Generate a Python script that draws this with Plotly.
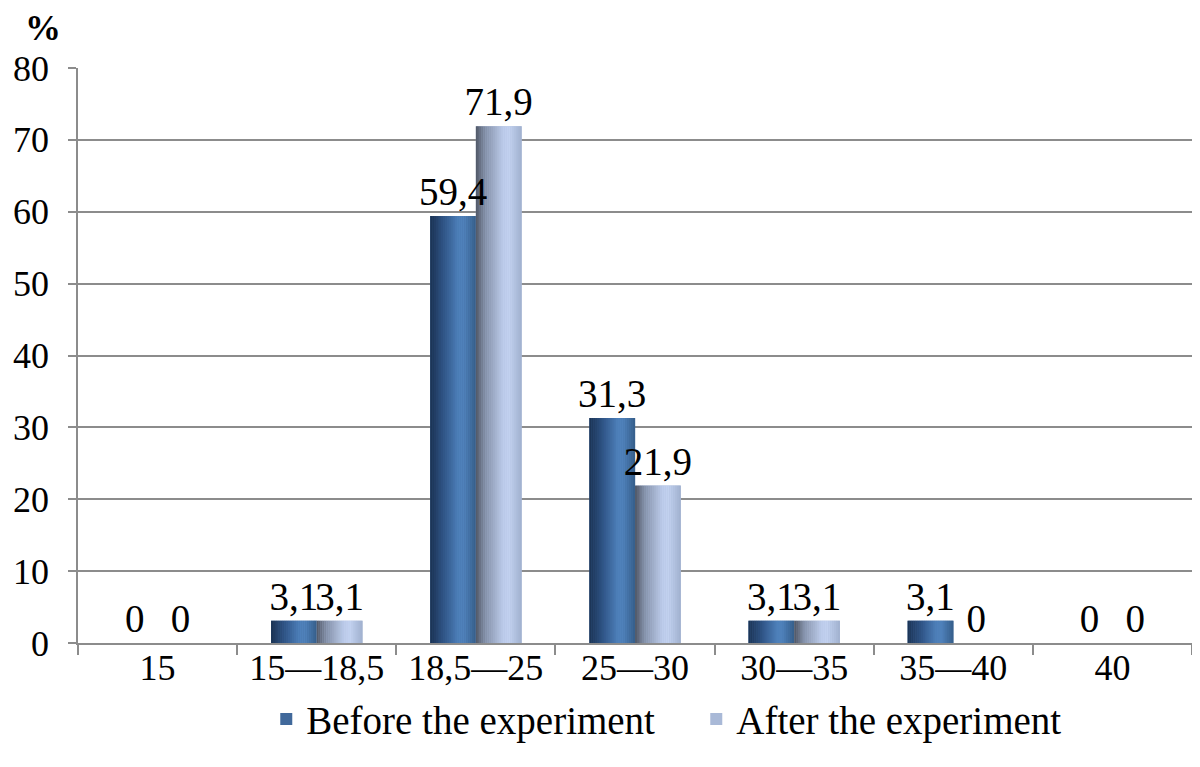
import plotly.graph_objects as go

categories = ["15", "15—18,5", "18,5—25", "25—30", "30—35", "35—40", "40"]
before = [0, 3.1, 59.4, 31.3, 3.1, 3.1, 0]
after = [0, 3.1, 71.9, 21.9, 3.1, 0, 0]
series_names = ["Before the experiment", "After the experiment"]
y_ticks = [0, 10, 20, 30, 40, 50, 60, 70, 80]

FONT = "Liberation Serif"
FS = 36
LFS = 39
BAR_W = 0.287

# cylinder-like shading key colours (left -> right), interpolated into strips
key_before = [(0.0, "#1b3354"), (0.3, "#2f5486"), (0.62, "#4e80ba"), (0.75, "#4f81ba"),
              (1.0, "#355e8a")]
key_after = [(0.0, "#4f5666"), (0.22, "#8592aa"), (0.6, "#bdcceb"), (0.72, "#c3d2f0"),
             (1.0, "#a0b0ce")]
legend_colors = ["#41699b", "#a9b9d7"]
N_STRIPS = 24


def hex2rgb(h):
    return tuple(int(h[i:i + 2], 16) for i in (1, 3, 5))


def shade(keys, t):
    for (t0, c0), (t1, c1) in zip(keys[:-1], keys[1:]):
        if t0 <= t <= t1:
            a = (t - t0) / (t1 - t0) if t1 > t0 else 0
            r0, r1 = hex2rgb(c0), hex2rgb(c1)
            return "rgb(%d,%d,%d)" % tuple(round(x + (y - x) * a) for x, y in zip(r0, r1))
    return keys[-1][1]


def fmt(v):
    return (f"{v:g}").replace(".", ",")


fig = go.Figure()
series = [(before, key_before), (after, key_after)]
for si, (vals, keys) in enumerate(series):
    start = -BAR_W if si == 0 else 0.0
    sw = BAR_W / N_STRIPS
    fig.add_trace(go.Bar(
        x=categories, y=vals, name=series_names[si],
        width=BAR_W, offset=start,
        marker=dict(color=legend_colors[si], line=dict(width=0)),
        showlegend=True,
    ))
    for k in range(N_STRIPS):
        c = shade(keys, (k + 0.5) / N_STRIPS)
        fig.add_trace(go.Bar(
            x=categories, y=vals, width=sw * 1.1, offset=start + k * sw,
            marker=dict(color=c, line=dict(width=0)),
            showlegend=False, hoverinfo="skip",
        ))

# value labels drawn last so they sit on top of neighbouring bars
for si, (vals, _) in enumerate(series):
    start = -BAR_W if si == 0 else 0.0
    fig.add_trace(go.Bar(
        x=categories, y=vals, width=BAR_W, offset=start,
        marker=dict(color="rgba(0,0,0,0)", line=dict(width=0)),
        text=[fmt(v) for v in vals], textposition="outside",
        textfont=dict(family=FONT, size=LFS, color="black"),
        constraintext="none", cliponaxis=False, showlegend=False, hoverinfo="skip",
    ))

fig.update_layout(
    width=1184, height=751,
    barmode="overlay",
    plot_bgcolor="white", paper_bgcolor="white",
    margin=dict(l=70, r=0, t=60, b=116, autoexpand=False),
    font=dict(family=FONT, size=FS, color="black"),
    legend=dict(orientation="h", x=0.169, xanchor="left",
                yref="container", y=0.053, yanchor="middle",
                entrywidth=385, entrywidthmode="pixels",
                font=dict(family=FONT, size=LFS), traceorder="normal"),
    annotations=[dict(text="<b>%</b>", xref="paper", yref="paper",
                      x=-0.031, y=1.07, xanchor="center", yanchor="middle",
                      showarrow=False, font=dict(family=FONT, size=36, color="black"))],
)
fig.update_xaxes(
    type="category", showline=True, linecolor="#8c8c8c", linewidth=1.5,
    ticks="outside", tickson="boundaries", ticklen=10, tickcolor="#8c8c8c",
    tickwidth=1.5, tickfont=dict(family=FONT, size=FS), showgrid=False,
    automargin=False, ticklabelstandoff=-8,
)
fig.update_yaxes(
    range=[0, 80], tickvals=y_ticks, showline=True, linecolor="#8c8c8c", linewidth=1.5,
    ticks="outside", ticklen=8, tickcolor="#8c8c8c", tickwidth=1.5,
    showgrid=True, gridcolor="#8c8c8c", gridwidth=1.5, zeroline=False,
    tickfont=dict(family=FONT, size=FS), automargin=False, ticklabelstandoff=12,
)

fig.write_html("out.html")
